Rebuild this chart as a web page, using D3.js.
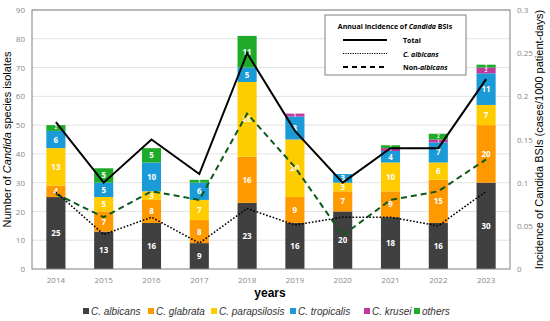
<!DOCTYPE html>
<html lang="en">
<head>
<meta charset="UTF-8">
<script src="https://d3js.org/d3.v7.min.js"></script>
<style>
  body { margin: 0; background: #fff; }
  svg { display: block; font-family: "Liberation Sans", Arial, sans-serif; }
  .tick text { fill: #888; font-family: "Open Sans", sans-serif; font-size: 8px; }
  .seglabel { fill: #fff; font-family: "Open Sans", sans-serif; font-weight: bold; font-size: 8px; }
</style>
</head>
<body>
<svg width="550" height="321"></svg>
<script>
const years = ["2014","2015","2016","2017","2018","2019","2020","2021","2022","2023"];
const species = ["C. albicans","C. glabrata","C. parapsilosis","C. tropicalis","C. krusei","others"];
const albicans     = [25,13,16, 9,23,16,20,18,16,30];
const glabrata     = [ 4, 7, 8, 8,16, 9, 7, 9,15,20];
const parapsilosis = [13, 5, 3, 7,26,20, 3,10, 6, 7];
const tropicalis   = [ 6, 5,10, 6, 5, 8, 3, 4, 7,11];
const krusei       = [ 0, 0, 0, 0, 0, 1, 0, 1, 1, 2];
const others       = [ 2, 5, 5, 1,11, 0, 0, 1, 2, 1];
// incidence (cases/1000 patient-days)
const incTotal       = [0.17,0.10,0.15,0.11,0.25,0.16,0.10,0.14,0.14,0.22];
const incAlbicans    = [0.089,0.04,0.06,0.03,0.07,0.051,0.06,0.06,0.05,0.09];
const incNonAlbicans = [0.087,0.06,0.09,0.08,0.18,0.118,0.039,0.08,0.09,0.127];
const leftTicks = [0,10,20,30,40,50,60,70,80,90];
const rightTicks = [0,0.05,0.1,0.15,0.2,0.25,0.3];

const colors = ["#404040","#ff9900","#ffcc00","#1a9ad6","#c0399f","#1faa2a"];
const series = [albicans, glabrata, parapsilosis, tropicalis, krusei, others];

const svg = d3.select("svg");
const m = {left: 32, right: 510, top: 10, bottom: 269};

const x = d3.scaleBand().domain(years).range([m.left, m.right]).paddingInner(0.6).paddingOuter(0.3);
const y = d3.scaleLinear().domain([0, 90]).range([m.bottom, m.top]);
const y2 = d3.scaleLinear().domain([0, 0.3]).range([m.bottom, m.top]);

// grid
svg.append("g").selectAll("line").data(leftTicks.slice(1)).join("line")
  .attr("x1", m.left).attr("x2", m.right)
  .attr("y1", d => y(d)).attr("y2", d => y(d))
  .attr("stroke", "#e3e3e3").attr("stroke-width", 1);

// stacked bars
const table = years.map((yr, i) => {
  const o = {year: yr};
  species.forEach((s, k) => o[s] = series[k][i]);
  return o;
});
const stacked = d3.stack().keys(species)(table);
const g = svg.append("g");
stacked.forEach((layer, k) => {
  g.append("g").attr("fill", colors[k]).selectAll("rect").data(layer).join("rect")
    .attr("x", d => x(d.data.year))
    .attr("width", x.bandwidth())
    .attr("y", d => y(d[1]))
    .attr("height", d => y(d[0]) - y(d[1]));
  g.append("g").selectAll("text").data(layer.filter(d => d[1] - d[0] > 0)).join("text")
    .attr("class", "seglabel")
    .attr("x", d => x(d.data.year) + x.bandwidth() / 2)
    .attr("y", d => y((d[0] + d[1]) / 2) + ((d[1] - d[0]) < 3 ? 1.5 : 3))
    .attr("text-anchor", "middle")
    .style("font-size", d => (d[1] - d[0]) < 3 ? "4.5px" : "8px")
    .text(d => d[1] - d[0]);
});

// frame
svg.append("rect").attr("x", m.left).attr("y", m.top)
  .attr("width", m.right - m.left).attr("height", m.bottom - m.top)
  .attr("fill", "none").attr("stroke", "#808080").attr("stroke-width", 1);

// axes
const ax = svg.append("g").attr("transform", `translate(0,${m.bottom})`)
  .call(d3.axisBottom(x).tickSize(0).tickPadding(8));
ax.select(".domain").remove();
const ay = svg.append("g").attr("transform", `translate(${m.left},0)`)
  .call(d3.axisLeft(y).tickValues(leftTicks).tickSize(0).tickPadding(7));
ay.select(".domain").remove();
const ay2 = svg.append("g").attr("transform", `translate(${m.right},0)`)
  .call(d3.axisRight(y2).tickValues(rightTicks).tickSize(0).tickPadding(7).tickFormat(d3.format("~g")));
ay2.select(".domain").remove();

// lines
const cx = d => x(d) + x.bandwidth() / 2;
const line = arr => d3.line().x((d, i) => cx(years[i])).y(d => y2(d))(arr);
svg.append("path").attr("d", line(incNonAlbicans)).attr("fill", "none")
  .attr("stroke", "#0d5a1c").attr("stroke-width", 2).attr("stroke-dasharray", "6,4");
svg.append("path").attr("d", line(incAlbicans)).attr("fill", "none")
  .attr("stroke", "#000").attr("stroke-width", 1.6).attr("stroke-dasharray", "1.6,1.8");
svg.append("path").attr("d", line(incTotal)).attr("fill", "none")
  .attr("stroke", "#000").attr("stroke-width", 2);

// axis titles
const lt = svg.append("text").attr("transform", `translate(11,${(m.top + m.bottom) / 2}) rotate(-90)`)
  .attr("text-anchor", "middle").attr("font-size", 11).attr("fill", "#000");
lt.append("tspan").text("Number of ");
lt.append("tspan").attr("font-style", "italic").text("Candida");
lt.append("tspan").text(" species isolates");

svg.append("text").attr("transform", `translate(543,${(m.top + m.bottom) / 2}) rotate(-90)`)
  .attr("text-anchor", "middle").attr("font-size", 11).attr("fill", "#000")
  .text("Incidence of Candida BSIs (cases/1000 patient-days)");

svg.append("text").attr("x", 270).attr("y", 297).attr("text-anchor", "middle")
  .attr("font-size", 12).attr("font-weight", "bold").text("years");

// line legend
const lg = svg.append("g");
lg.append("rect").attr("x", 325).attr("y", 15).attr("width", 141).attr("height", 60)
  .attr("fill", "#fff").attr("stroke", "#808080");
const lh = lg.append("text").attr("x", 395).attr("y", 29).attr("text-anchor", "middle")
  .attr("font-family", "Open Sans, sans-serif").attr("font-size", 7).attr("font-weight", "bold");
lh.append("tspan").text("Annual incidence of ");
lh.append("tspan").attr("font-style", "italic").text("Candida");
lh.append("tspan").text(" BSIs");
const legendRows = [
  {label: ["Total"], dash: null, w: 2},
  {label: ["", "C. albicans"], dash: "1.2,1.2", w: 1.2},
  {label: ["Non-", "albicans"], dash: "5,4", w: 2}
];
legendRows.forEach((r, i) => {
  const yy = 40 + i * 13.5;
  lg.append("line").attr("x1", 343).attr("x2", 387).attr("y1", yy).attr("y2", yy)
    .attr("stroke", "#000").attr("stroke-width", r.w).attr("stroke-dasharray", r.dash);
  const t = lg.append("text").attr("x", 403).attr("y", yy + 3)
    .attr("font-family", "Open Sans, sans-serif").attr("font-size", 7).attr("font-weight", "bold");
  t.append("tspan").text(r.label[0]);
  if (r.label[1]) t.append("tspan").attr("font-style", "italic").text(r.label[1]);
});

// species legend
const legX = [83, 148, 211, 290, 364, 414];
const sl = svg.append("g");
species.forEach((s, k) => {
  sl.append("rect").attr("x", legX[k]).attr("y", 308).attr("width", 6).attr("height", 6).attr("fill", colors[k]);
  sl.append("text").attr("x", legX[k] + 8).attr("y", 315).attr("font-size", 10)
    .attr("font-style", "italic").attr("fill", "#333").text(s);
});
</script>
</body>
</html>
